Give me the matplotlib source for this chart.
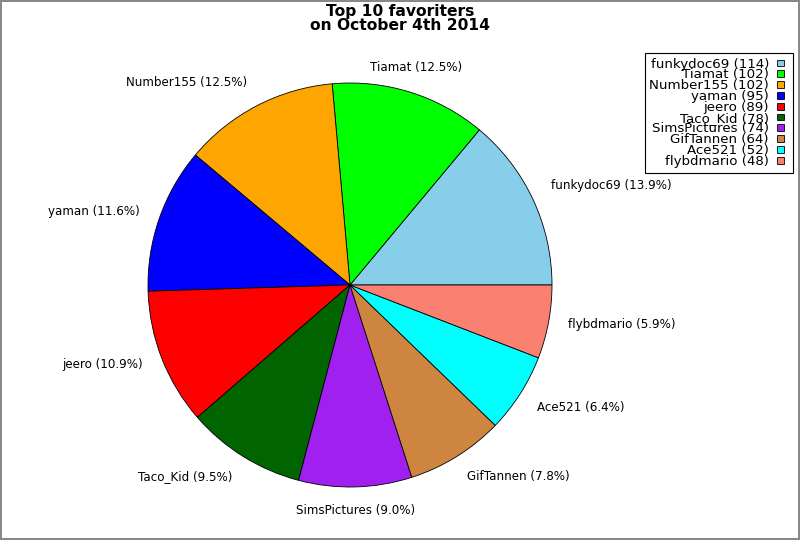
import matplotlib
matplotlib.use("Agg")
import matplotlib.pyplot as plt
from matplotlib.patches import Rectangle
from matplotlib.legend_handler import HandlerPatch

names = ["funkydoc69", "Tiamat", "Number155", "yaman", "jeero",
         "Taco_Kid", "SimsPictures", "GifTannen", "Ace521", "flybdmario"]
counts = [114, 102, 102, 95, 89, 78, 74, 64, 52, 48]
colors = ["#87ceeb", "#00ff00", "#ffa500", "#0000ff", "#ff0000",
          "#006400", "#a020f0", "#cd853f", "#00ffff", "#fa8072"]

total = sum(counts)
pie_labels = ["%s (%.1f%%)" % (n, 100.0 * c / total) for n, c in zip(names, counts)]
legend_labels = ["%s (%d)" % (n, c) for n, c in zip(names, counts)]

fig = plt.figure(figsize=(8, 5.4), dpi=100)
fig.patch.set_edgecolor("#888888")
fig.patch.set_linewidth(1.5)

# axes box is exactly the pie's bounding square
ax = fig.add_axes([148 / 800, 1 - 487 / 540, 404 / 800, 404 / 540])
wedges, texts = ax.pie(counts, labels=pie_labels, colors=colors, startangle=0,
                       counterclock=True, labeldistance=1.1,
                       wedgeprops=dict(edgecolor="black", linewidth=0.6),
                       textprops=dict(fontsize=8.6))
ax.set_xlim(-1, 1)
ax.set_ylim(-1, 1)
ax.set_aspect("auto")
ax.axis("off")

# anchor each label by compass sector of its slice
px = 2.0 / 404
for w, t in zip(wedges, texts):
    mid = ((w.theta1 + w.theta2) / 2) % 360
    sector = int(((mid + 22.5) % 360) // 45)
    ha = ["left", "left", "center", "right", "right", "right", "center", "left"][sector]
    va = ["center", "bottom", "bottom", "bottom", "center", "top", "top", "top"][sector]
    dy = {"center": 1.0, "bottom": -1.5, "top": 3.5}[va] * px
    x, y = t.get_position()
    t.set_position((x, y + dy))
    t.set_ha(ha)
    t.set_va(va)

fig.text(0.5, 0.993, "Top 10 favoriters\non October 4th 2014", ha="center", va="top",
         fontsize=11.2, fontweight="bold", linespacing=0.9)


def small_square(legend, orig_handle, xdescent, ydescent, width, height, fontsize):
    s = 5.0
    return Rectangle((-xdescent, -ydescent + (height - s) / 2), s, s)


leg = fig.legend(wedges, legend_labels, loc="upper right",
                 bbox_to_anchor=(793 / 800, 1 - 53 / 540), markerfirst=False,
                 fontsize=9.6, labelspacing=-0.165, handlelength=0.85, handleheight=0.7,
                 handletextpad=0.6, borderpad=0.35, fancybox=False, framealpha=1,
                 edgecolor="black", borderaxespad=0,
                 handler_map={w: HandlerPatch(patch_func=small_square) for w in wedges})
leg.get_frame().set_linewidth(0.8)

fig.savefig("out.png", dpi=100)
